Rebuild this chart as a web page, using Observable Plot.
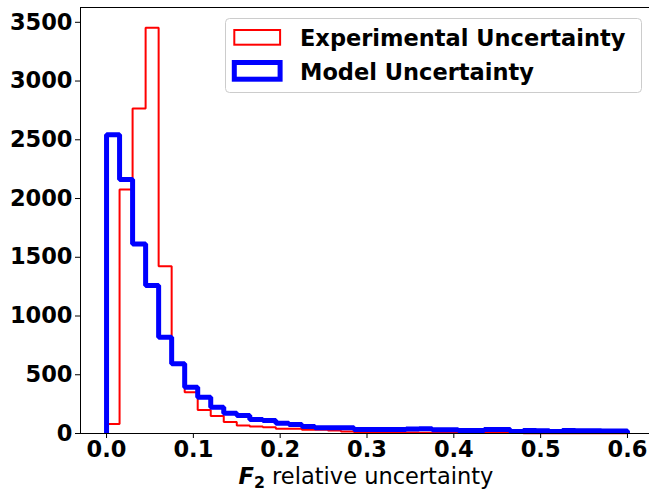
<!DOCTYPE html>
<html>
<head>
<meta charset="utf-8">
<script src="https://cdn.jsdelivr.net/npm/d3@7"></script>
<script src="https://cdn.jsdelivr.net/npm/@observablehq/plot@0.6"></script>
<style>
  html, body { margin: 0; padding: 0; background: white; overflow: hidden; }
  #chart { width: 649px; height: 491px; overflow: hidden; }
</style>
</head>
<body>
<div id="chart"></div>
<script>
// Bin edges (x, F2 relative uncertainty)
const binEdges = [0.000, 0.015, 0.030, 0.045, 0.060, 0.075, 0.090, 0.105, 0.120, 0.135,
                  0.150, 0.165, 0.180, 0.195, 0.210, 0.225, 0.240, 0.255, 0.270, 0.285,
                  0.300, 0.315, 0.330, 0.345, 0.360, 0.375, 0.390, 0.405, 0.420, 0.435,
                  0.450, 0.465, 0.480, 0.495, 0.510, 0.525, 0.540, 0.555, 0.570, 0.585, 0.600];
// Counts per bin
const expCounts = [80, 2077, 2766, 3453, 1424, 600, 352, 201, 150, 97,
                   68, 60, 54, 40, 40, 31, 31, 25, 17, 11,
                   12, 10, 9, 8, 7, 6, 6, 5, 5, 4,
                   4, 4, 3, 3, 3, 3, 2, 2, 2, 2];
const modelCounts = [2542, 2162, 1614, 1260, 820, 593, 394, 309, 224, 173,
                     153, 119, 111, 88, 77, 60, 48, 48, 48, 34,
                     34, 34, 34, 38, 40, 31, 31, 26, 26, 33,
                     33, 17, 26, 23, 17, 26, 24, 23, 22, 22];
const seriesNames = ["Experimental Uncertainty", "Model Uncertainty"];
const seriesColors = ["#ff0000", "#0000ff"];
const xTicks = [0.0, 0.1, 0.2, 0.3, 0.4, 0.5, 0.6];
const yTicks = [0, 500, 1000, 1500, 2000, 2500, 3000, 3500];

function stepPoints(counts) {
  const pts = [{x: binEdges[0], y: 0}];
  counts.forEach((c, i) => pts.push({x: binEdges[i], y: c}));
  pts.push({x: binEdges[binEdges.length - 1], y: counts[counts.length - 1]});
  pts.push({x: binEdges[binEdges.length - 1], y: 0});
  return pts;
}

const FONT = "DejaVu Sans";
const FS = 22.5;

const plot = Plot.plot({
  width: 649,
  height: 491,
  marginLeft: 80,
  marginRight: -4,
  marginTop: 7,
  marginBottom: 58,
  style: {fontFamily: FONT, fontSize: FS + "px", fontWeight: "bold", color: "black", background: "white", overflow: "hidden"},
  x: {domain: [-0.03, 0.63]},
  y: {domain: [0, 3626]},
  marks: [
    Plot.line(stepPoints(expCounts), {x: "x", y: "y", curve: "step-after", stroke: seriesColors[0], strokeWidth: 2, strokeLinejoin: "miter", strokeLinecap: "butt"}),
    Plot.line(stepPoints(modelCounts), {x: "x", y: "y", curve: "step-after", stroke: seriesColors[1], strokeWidth: 5, strokeLinejoin: "miter", strokeLinecap: "butt"}),
    Plot.frame({stroke: "black", strokeWidth: 1}),
    Plot.axisX({ticks: xTicks, tickFormat: d3.format(".1f"), tickSize: 5, tickPadding: 3, label: null, fontSize: FS, fontWeight: "bold", stroke: "black"}),
    Plot.axisY({ticks: yTicks, tickFormat: d => String(d), tickSize: 5, tickPadding: 3, label: null, fontSize: FS, fontWeight: "bold", stroke: "black"})
  ]
});

document.getElementById("chart").appendChild(plot);

const svg = d3.select(plot);

// X axis label with bold-italic F and subscript 2
const xl = svg.append("text")
  .attr("x", 366)
  .attr("y", 484)
  .attr("text-anchor", "middle")
  .style("font-family", FONT)
  .style("font-size", FS + "px")
  .style("font-weight", "normal")
  .attr("fill", "black");
xl.append("tspan").text("F").style("font-weight", "bold").style("font-style", "italic");
xl.append("tspan").text("2").style("font-weight", "bold").style("font-size", (FS * 0.7) + "px").attr("dy", "0.25em");
xl.append("tspan").text(" relative uncertainty").attr("dy", "-0.175em");

// Legend
const lg = svg.append("g");
lg.append("rect")
  .attr("x", 225.5).attr("y", 18.5).attr("width", 416).attr("height", 74)
  .attr("rx", 4).attr("ry", 4)
  .attr("fill", "white").attr("fill-opacity", 0.8)
  .attr("stroke", "#cccccc").attr("stroke-width", 1);
const legendRows = [
  {name: seriesNames[0], color: seriesColors[0], sw: 2, ry: 30, rh: 14.7, ty: 45.5},
  {name: seriesNames[1], color: seriesColors[1], sw: 5, ry: 62.5, rh: 16.7, ty: 79.5}
];
legendRows.forEach(r => {
  lg.append("rect")
    .attr("x", 234.3).attr("y", r.ry).attr("width", 45.8).attr("height", r.rh)
    .attr("fill", "none").attr("stroke", r.color).attr("stroke-width", r.sw)
    .attr("stroke-linejoin", "miter");
  lg.append("text")
    .attr("x", 300).attr("y", r.ty)
    .attr("text-anchor", "start")
    .style("font-family", FONT).style("font-size", FS + "px").style("font-weight", "bold")
    .attr("fill", "black")
    .text(r.name);
});
</script>
</body>
</html>
